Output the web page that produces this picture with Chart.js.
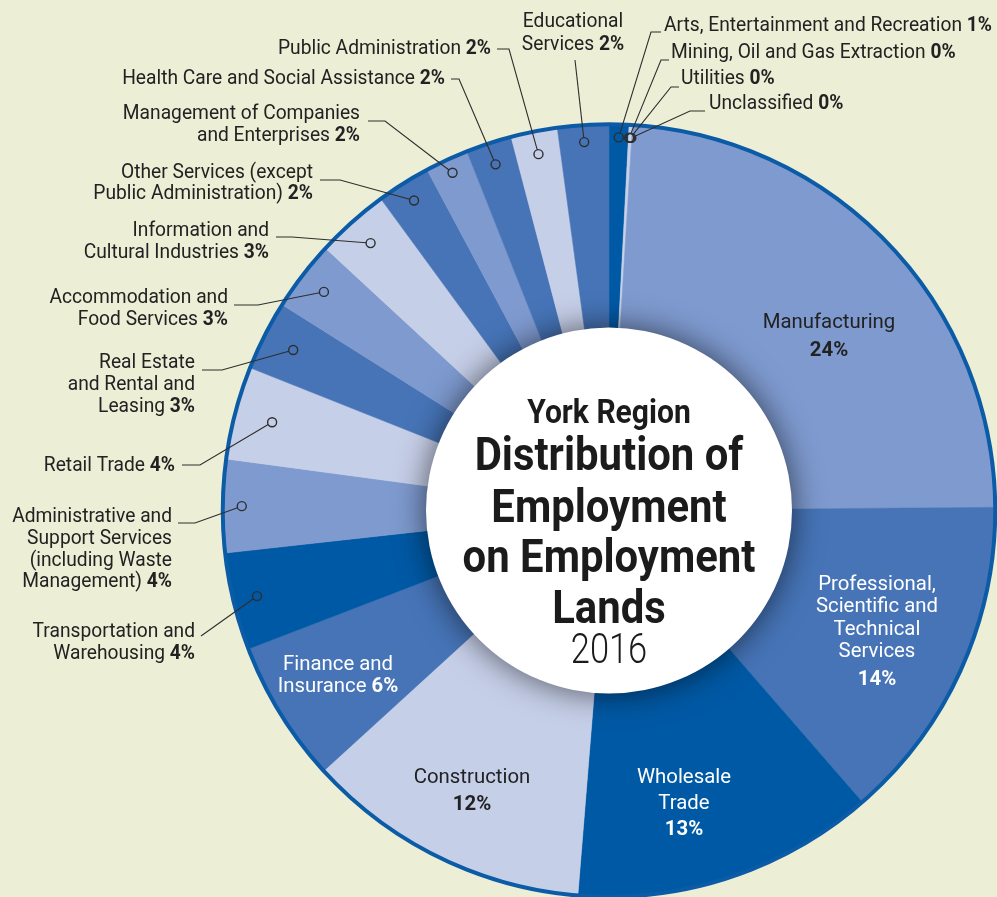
<!DOCTYPE html>
<html>
<head>
<meta charset="utf-8">
<script src="https://cdn.jsdelivr.net/npm/chart.js@4.4.1/dist/chart.umd.min.js"></script>
<style>
  html, body { margin: 0; padding: 0; background: #eceed6; overflow: hidden; }
  #wrap { position: relative; width: 997px; height: 897px; }
</style>
</head>
<body>
<div id="wrap"><canvas id="chart" width="997" height="897"></canvas></div>
<script>
// slices, clockwise from 12 o'clock
const sectors = [
  'Arts, Entertainment and Recreation', 'Mining, Oil and Gas Extraction', 'Utilities', 'Unclassified',
  'Manufacturing', 'Professional, Scientific and Technical Services', 'Wholesale Trade', 'Construction',
  'Finance and Insurance', 'Transportation and Warehousing',
  'Administrative and Support Services (including Waste Management)', 'Retail Trade',
  'Real Estate and Rental and Leasing', 'Accommodation and Food Services',
  'Information and Cultural Industries', 'Other Services (except Public Administration)',
  'Management of Companies and Enterprises', 'Health Care and Social Assistance',
  'Public Administration', 'Educational Services'
];
// share of employment (%)
const shares = [0.83, 0.06, 0.04, 0.04, 23.9, 13.75, 12.67, 11.94, 5.94, 4.08,
                3.89, 3.89, 2.92, 2.94, 3.06, 2.25, 1.81, 1.92, 1.94, 2.14];
// rounded percentages as printed on the chart
const printedPct = [1, 0, 0, 0, 24, 14, 13, 12, 6, 4, 4, 4, 3, 3, 3, 2, 2, 2, 2, 2];

const palette = { dark: '#0059a5', blue: '#4674b7', mid: '#7e9acf', light: '#c6cfe8' };
const shadeOf = ['dark', 'light', 'light', 'light', 'mid', 'blue', 'dark', 'light', 'blue', 'dark',
                 'mid', 'light', 'blue', 'mid', 'light', 'blue', 'mid', 'blue', 'light', 'blue'];
const colors = shadeOf.map(k => palette[k]);

// callout labels outside the ring (i = slice index)
const outside = [
  { i: 19, align: 'center', x: 573, y: [22, 45], lines: ['Educational', 'Services'], lead: [[575, 60]], dip: 17 },
  { i: 18, align: 'right', x: 491, y: [49], lines: ['Public Administration'], lead: [[497, 49], [509, 49]], dip: 23 },
  { i: 17, align: 'right', x: 445, y: [79], lines: ['Health Care and Social Assistance'], lead: [[451, 79], [459, 79]], dip: 22 },
  { i: 16, align: 'right', x: 360, y: [114, 136], lines: ['Management of Companies', 'and Enterprises'], lead: [[368, 121], [385, 121]], dip: 14 },
  { i: 15, align: 'right', x: 313, y: [173, 194], lines: ['Other Services (except', 'Public Administration)'], lead: [[320, 180], [340, 180]], dip: 20 },
  { i: 14, align: 'right', x: 269, y: [231, 253], lines: ['Information and', 'Cultural Industries'], lead: [[276, 237], [292, 237]], dip: 28 },
  { i: 13, align: 'right', x: 228, y: [298, 320], lines: ['Accommodation and', 'Food Services'], lead: [[234, 305], [258, 305]], dip: 27 },
  { i: 12, align: 'right', x: 195, y: [363, 385, 407], lines: ['Real Estate', 'and Rental and', 'Leasing'], lead: [[202, 370], [222, 370]], dip: 32 },
  { i: 11, align: 'right', x: 175, y: [466], lines: ['Retail Trade'], lead: [[182, 465], [200, 465]], dip: 38 },
  { i: 10, align: 'right', x: 172, y: [517, 539, 561, 582], lines: ['Administrative and', 'Support Services', '(including Waste', 'Management)'], lead: [[178, 523], [195, 523]], dip: 19 },
  { i: 9, align: 'right', x: 195, y: [632, 654], lines: ['Transportation and', 'Warehousing'], lead: [[201, 636]], dip: 24 },
  { i: 0, align: 'left', x: 664, y: [26], lines: ['Arts, Entertainment and Recreation'], lead: [[661, 32], [651, 32]], dip: 13 },
  { i: 1, align: 'left', x: 671, y: [53], lines: ['Mining, Oil and Gas Extraction'], lead: [[669, 60], [661, 60]], dip: 13 },
  { i: 2, align: 'left', x: 681, y: [79], lines: ['Utilities'], lead: [[679, 87], [671, 87]], dip: 13 },
  { i: 3, align: 'left', x: 709, y: [104], lines: ['Unclassified'], lead: [[705, 111], [690, 111]], dip: 13 }
];

// labels printed on the big slices
const inside = [
  { i: 4, x: 829, y: [323, 351], lines: ['Manufacturing'], own: true, color: '#222' },
  { i: 5, x: 877, y: [585, 607, 630, 652, 680], lines: ['Professional,', 'Scientific and', 'Technical', 'Services'], own: true, color: '#fff' },
  { i: 6, x: 684, y: [778, 804, 830], lines: ['Wholesale', 'Trade'], own: true, color: '#fff' },
  { i: 7, x: 472, y: [778, 805], lines: ['Construction'], own: true, color: '#222' },
  { i: 8, x: 338, y: [665, 687], lines: ['Finance and', 'Insurance'], own: false, color: '#fff' }
];

const titleLines = [
  { text: 'York Region', size: 33, weight: 700, base: 423, sx: 0.91 },
  { text: 'Distribution of', size: 46, weight: 700, base: 470, sx: 0.91 },
  { text: 'Employment', size: 46, weight: 700, base: 522, sx: 0.91 },
  { text: 'on Employment', size: 46, weight: 700, base: 572, sx: 0.91 },
  { text: 'Lands', size: 46, weight: 700, base: 623, sx: 0.91 },
  { text: '2016', size: 42, weight: 300, base: 663, sx: 0.82 }
];

function richText(ctx, x, y, segs, align, size, sx, color) {
  ctx.save();
  ctx.translate(x, y);
  ctx.scale(sx, 1);
  ctx.fillStyle = color;
  ctx.textAlign = 'left';
  const widths = segs.map(([t, b]) => {
    ctx.font = (b ? '700 ' : '400 ') + size + 'px Roboto';
    return ctx.measureText(t).width;
  });
  const total = widths.reduce((a, b) => a + b, 0);
  let cx = align === 'left' ? 0 : align === 'right' ? -total : -total / 2;
  segs.forEach(([t, b], k) => {
    ctx.font = (b ? '700 ' : '400 ') + size + 'px Roboto';
    ctx.fillText(t, cx, 0);
    cx += widths[k];
  });
  ctx.restore();
}

function labelSegs(item) {
  const pct = printedPct[item.i] + '%';
  const rows = item.lines.map(l => [[l, false]]);
  if (item.own) rows.push([[pct, true]]);
  else rows[rows.length - 1].push([' ' + pct, true]);
  return rows;
}

const decor = {
  id: 'decor',
  afterDatasetsDraw(chart) {
    const ctx = chart.ctx;
    const meta = chart.getDatasetMeta(0);
    const { x, y, outerRadius } = meta.data[0];

    ctx.save();
    // rim
    ctx.beginPath();
    ctx.arc(x, y, outerRadius, 0, Math.PI * 2);
    ctx.lineWidth = 4;
    ctx.strokeStyle = '#0b5ba7';
    ctx.stroke();
    // white hub with soft shadow
    ctx.shadowColor = 'rgba(0,0,0,0.6)';
    ctx.shadowBlur = 32;
    ctx.beginPath();
    ctx.arc(x, y, 183, 0, Math.PI * 2);
    ctx.fillStyle = '#ffffff';
    ctx.fill();
    ctx.restore();

    // title in the hub
    ctx.save();
    ctx.textBaseline = 'alphabetic';
    titleLines.forEach(t => {
      ctx.save();
      ctx.translate(x, t.base);
      ctx.scale(t.sx, 1);
      ctx.font = t.weight + ' ' + t.size + 'px Roboto';
      ctx.fillStyle = '#1b1b1b';
      ctx.textAlign = 'center';
      ctx.fillText(t.text, 0, 0);
      ctx.restore();
    });
    ctx.restore();

    ctx.save();
    ctx.textBaseline = 'middle';
    // labels on slices
    inside.forEach(item => {
      labelSegs(item).forEach((row, k) => richText(ctx, item.x, item.y[k], row, 'center', 21, 0.97, item.color));
    });
    // callouts with leader lines
    outside.forEach(item => {
      const el = meta.data[item.i];
      const a = (el.startAngle + el.endAngle) / 2;
      const r = outerRadius - item.dip;
      const px = x + r * Math.cos(a), py = y + r * Math.sin(a);
      const pts = item.lead.concat([[px, py]]);
      const last = pts[pts.length - 2];
      const d = Math.hypot(px - last[0], py - last[1]);
      const ex = px - (px - last[0]) / d * 4.5, ey = py - (py - last[1]) / d * 4.5;
      ctx.beginPath();
      ctx.moveTo(pts[0][0], pts[0][1]);
      for (let k = 1; k < pts.length - 1; k++) ctx.lineTo(pts[k][0], pts[k][1]);
      ctx.lineTo(ex, ey);
      ctx.strokeStyle = '#2e2e2e';
      ctx.lineWidth = 1.1;
      ctx.stroke();
      ctx.beginPath();
      ctx.arc(px, py, 4.5, 0, Math.PI * 2);
      ctx.lineWidth = 1.4;
      ctx.stroke();
      labelSegs(item).forEach((row, k) => richText(ctx, item.x, item.y[k], row, item.align, 20, 0.96, '#222'));
    });
    ctx.restore();
  }
};

new Chart(document.getElementById('chart'), {
  type: 'doughnut',
  data: {
    labels: sectors,
    datasets: [{
      data: shares,
      backgroundColor: colors,
      borderColor: colors,
      borderWidth: 0.5
    }]
  },
  options: {
    responsive: false,
    animation: false,
    cutout: 140,
    layout: { padding: { left: 222, top: 124, right: 1, bottom: 0 } },
    plugins: {
      legend: { display: false },
      tooltip: { enabled: false }
    }
  },
  plugins: [decor]
});
</script>
</body>
</html>
